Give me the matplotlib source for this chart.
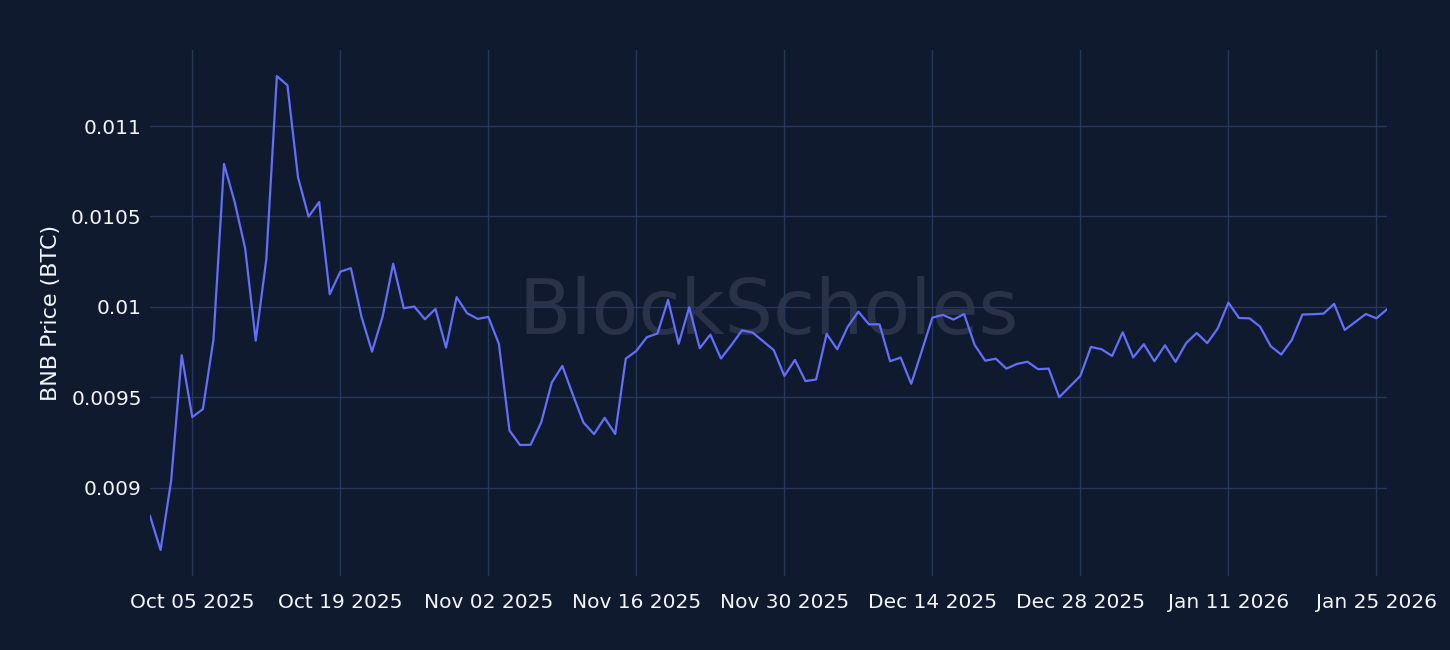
import numpy as np
import pandas as pd
import matplotlib
matplotlib.use("Agg")
import matplotlib.pyplot as plt
import matplotlib.dates as mdates
from matplotlib.ticker import FuncFormatter

# daily BNB/BTC closes, Oct 01 2025 -> Jan 26 2026
START = "2025-10-01"
PRICES = [
    0.008845, 0.008657, 0.009040, 0.009733, 0.009391, 0.009435, 0.009818, 0.010790,
    0.010582, 0.010324, 0.009814, 0.010263, 0.011276, 0.011225, 0.010716, 0.010499,
    0.010580, 0.010070, 0.010195, 0.010214, 0.009947, 0.009753, 0.009947, 0.010239,
    0.009993, 0.010002, 0.009932, 0.009989, 0.009775, 0.010054, 0.009965, 0.009934,
    0.009945, 0.009796, 0.009317, 0.009237, 0.009238, 0.009361, 0.009582, 0.009674,
    0.009514, 0.009361, 0.009297, 0.009387, 0.009298, 0.009714, 0.009757, 0.009833,
    0.009853, 0.010039, 0.009796, 0.009998, 0.009772, 0.009847, 0.009715, 0.009790,
    0.009871, 0.009858, 0.009810, 0.009761, 0.009619, 0.009707, 0.009590, 0.009599,
    0.009851, 0.009766, 0.009891, 0.009974, 0.009904, 0.009904, 0.009700, 0.009720,
    0.009575, 0.009757, 0.009941, 0.009956, 0.009930, 0.009961, 0.009790, 0.009703,
    0.009714, 0.009659, 0.009685, 0.009697, 0.009656, 0.009659, 0.009501, 0.009560,
    0.009619, 0.009779, 0.009766, 0.009729, 0.009860, 0.009721, 0.009794, 0.009700,
    0.009788, 0.009696, 0.009800, 0.009856, 0.009800, 0.009882, 0.010024, 0.009939,
    0.009937, 0.009891, 0.009783, 0.009737, 0.009818, 0.009958, 0.009960, 0.009963,
    0.010017, 0.009873, 0.009917, 0.009961, 0.009937, 0.009987,
]
DATES = pd.date_range(START, periods=len(PRICES), freq="D")

X_TICKS = pd.date_range("2025-10-05", "2026-01-25", freq="14D")
Y_TICKS = [0.009, 0.0095, 0.01, 0.0105, 0.011]

BG = "#101a2e"
GRID = "#25375a"
LINE = "#636efa"
TXT = "#f2f5fa"

fig = plt.figure(figsize=(14.5, 6.5), dpi=100, facecolor=BG)
ax = fig.add_axes([150 / 1450, 74 / 650, 1237 / 1450, 526 / 650], facecolor=BG)

# watermark behind the data
ax.text(0.5, 0.5, "BlockScholes", transform=ax.transAxes, ha="center", va="center",
        fontsize=55, color="#293248", zorder=0.5)

ax.plot(DATES, PRICES, color=LINE, linewidth=1.6, zorder=3)

lo, hi = min(PRICES), max(PRICES)
pad = 0.055 * (hi - lo)
ax.set_ylim(lo - pad, hi + pad)
ax.set_xlim(DATES[0], DATES[-1])

ax.set_xticks(X_TICKS)
ax.xaxis.set_major_formatter(mdates.DateFormatter("%b %d %Y"))
ax.set_yticks(Y_TICKS)
ax.yaxis.set_major_formatter(FuncFormatter(lambda v, _: f"{v:g}"))

ax.grid(True, color=GRID, linewidth=1.0, zorder=0)
ax.set_axisbelow(True)
for s in ax.spines.values():
    s.set_visible(False)
ax.tick_params(axis="both", length=0, colors=TXT, labelsize=14.5)
ax.tick_params(axis="x", pad=12)
ax.tick_params(axis="y", pad=6)
ax.set_ylabel("BNB Price (BTC)", color=TXT, fontsize=16, labelpad=7)

fig.savefig("out.png", dpi=100, facecolor=BG)
